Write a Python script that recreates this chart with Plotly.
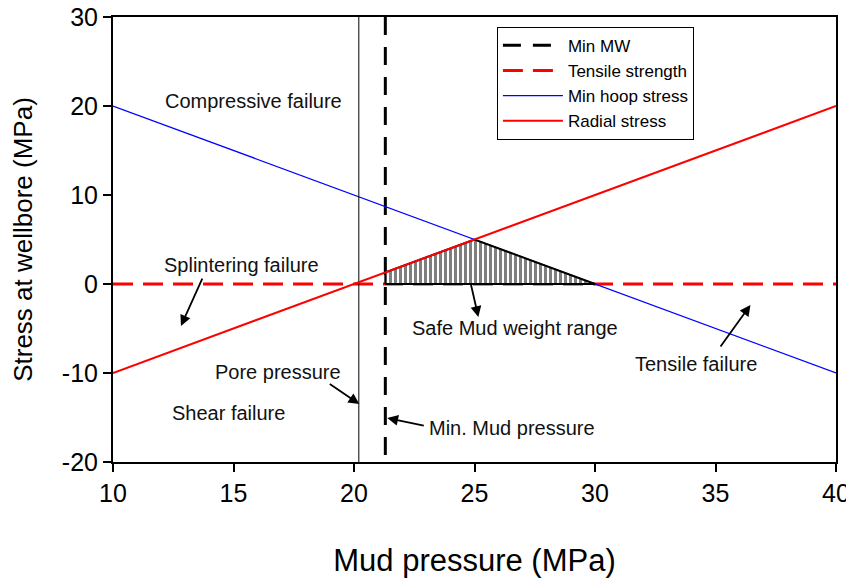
import plotly.graph_objects as go

# Data
mud_pressure = [10, 40]
min_hoop_stress = [20, -10]
radial_stress = [-10, 20]
tensile_strength = [0, 0]
min_mw_x = [21.3, 21.3]
min_mw_y = [30, -20]
pore_x = [20.2, 20.2]
pore_y = [30, -20]
safe_x = [21.3, 21.3, 25, 30, 21.3]
safe_y = [0, 1.3, 5, 0, 0]

x_ticks = [10, 15, 20, 25, 30, 35, 40]
y_ticks = [-20, -10, 0, 10, 20, 30]
y_ticktext = ["-20", "-10", "0", "10", "20", "30"]

FONT = "Liberation Sans, Arial, sans-serif"

fig = go.Figure()

fig.add_trace(go.Scatter(x=min_mw_x, y=min_mw_y, mode="lines", name="Min MW",
                         line=dict(color="black", width=3, dash="18px,12px")))
fig.add_trace(go.Scatter(x=mud_pressure, y=tensile_strength, mode="lines", name="Tensile strength",
                         line=dict(color="#ff0000", width=3, dash="20px,10px")))
fig.add_trace(go.Scatter(x=mud_pressure, y=min_hoop_stress, mode="lines", name="Min hoop stress",
                         line=dict(color="#0000ff", width=1.3)))
fig.add_trace(go.Scatter(x=pore_x, y=pore_y, mode="lines", showlegend=False,
                         line=dict(color="black", width=1)))
fig.add_trace(go.Scatter(x=safe_x, y=safe_y, mode="lines", fill="toself", showlegend=False,
                         fillcolor="white",
                         fillpattern=dict(shape="|", fgcolor="black", bgcolor="white", size=5, solidity=0.6),
                         line=dict(color="black", width=2)))
fig.add_trace(go.Scatter(x=mud_pressure, y=radial_stress, mode="lines", name="Radial stress",
                         line=dict(color="#ff0000", width=2)))

texts = [
    ("Compressive failure", 15.81, 20.56),
    ("Splintering failure", 15.32, 2.13),
    ("Pore pressure", 16.85, -9.89),
    ("Shear failure", 14.78, -14.49),
    ("Safe Mud weight range", 26.69, -4.94),
    ("Min. Mud pressure", 26.57, -16.18),
    ("Tensile failure", 34.21, -8.99),
]
for t, x, y in texts:
    fig.add_annotation(x=x, y=y, text=t, showarrow=False,
                       font=dict(family=FONT, size=20, color="#111111"))

arrows = [
    (12.82, -4.72, 22, -49),
    (20.22, -13.48, -31, -21),
    (21.38, -15.06, 38, 8),
    (25.16, -3.71, -8, -35),
    (36.45, -2.36, -31, 43),
]
for x, y, ax, ay in arrows:
    fig.add_annotation(x=x, y=y, ax=ax, ay=ay, text="", showarrow=True,
                       arrowhead=2, arrowsize=1.2, arrowwidth=1.8, arrowcolor="black")

fig.update_layout(
    width=846, height=570,
    margin=dict(l=105, r=18, t=9, b=116),
    paper_bgcolor="white", plot_bgcolor="white",
    font=dict(family=FONT, color="black"),
    legend=dict(x=0.531, y=0.978, xanchor="left", yanchor="top",
                bgcolor="white", bordercolor="black", borderwidth=1,
                font=dict(family=FONT, size=17, color="black"),
                itemwidth=60, tracegroupgap=0),
    xaxis=dict(range=[10, 40], tickvals=x_ticks, automargin=False, ticklabeloverflow="allow",
               showgrid=False, zeroline=False, showline=True, linecolor="black", linewidth=2,
               mirror=True, ticks="outside", ticklen=8, tickwidth=1.5, tickcolor="black",
               tickfont=dict(size=25, family=FONT),
               title=dict(text="Mud pressure (MPa)", font=dict(size=31, family=FONT), standoff=43)),
    yaxis=dict(range=[-20, 30], tickvals=y_ticks, ticktext=y_ticktext, automargin=False,
               ticklabeloverflow="allow",
               showgrid=False, zeroline=False, showline=True, linecolor="black", linewidth=2,
               mirror=True, ticks="outside", ticklen=8, tickwidth=1.5, tickcolor="black",
               tickfont=dict(size=25, family=FONT),
               title=dict(text="Stress at wellbore (MPa)", font=dict(size=26, family=FONT), standoff=25)),
)

fig.write_html("out.html")
